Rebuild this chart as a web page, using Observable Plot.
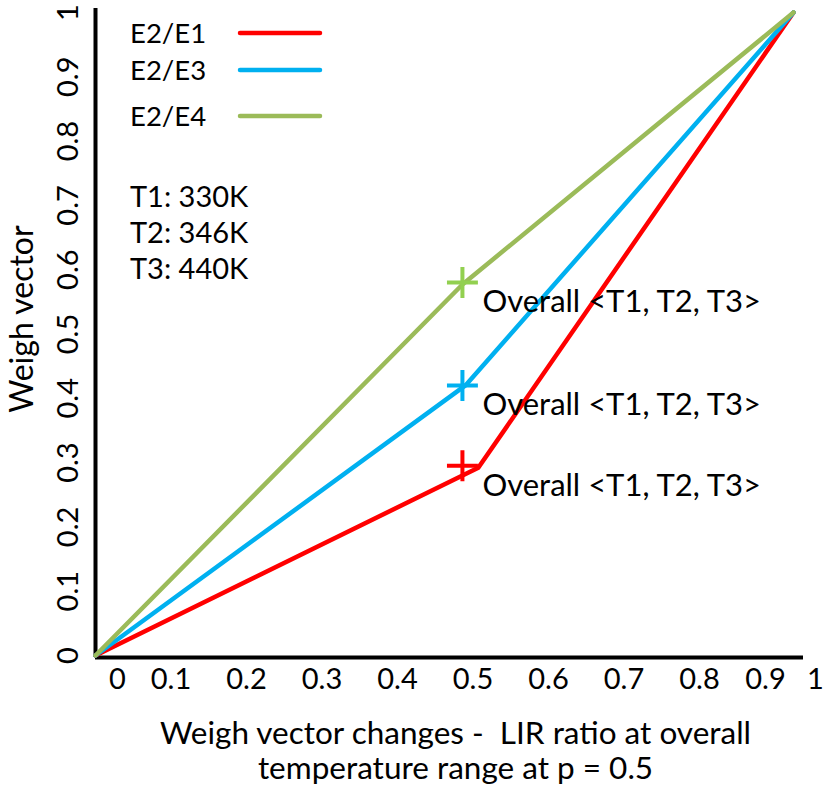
<!DOCTYPE html>
<html><head><meta charset="utf-8">
<script src="https://cdn.jsdelivr.net/npm/d3@7"></script>
<script src="https://cdn.jsdelivr.net/npm/@observablehq/plot@0.6"></script>
<style>body{margin:0;background:#fff} #chart{width:827px;height:787px}</style>
</head><body><div id="chart"></div>
<script>
// ---- data ----
const series = ["E2/E1", "E2/E3", "E2/E4"];
const lineColors = ["#FF0000", "#00B0F0", "#9BBB59"];
const markerColors = ["#FF0000", "#00B0F0", "#92D050"];
const xE2E1 = [0, 0.507, 0.956];
const yE2E1 = [0, 0.292, 1];
const xE2E3 = [0, 0.49, 0.956];
const yE2E3 = [0, 0.42, 1];
const xE2E4 = [0, 0.486, 0.956];
const yE2E4 = [0, 0.577, 1];
const markerX = [0.486, 0.486, 0.486];
const markerY = [0.295, 0.42, 0.58];
const annotation = "Overall <T1, T2, T3>";
const tempLabels = ["T1: 330K", "T2: 346K", "T3: 440K"];
const xTicks = [0, 0.1, 0.2, 0.3, 0.4, 0.5, 0.6, 0.7, 0.8, 0.9, 1];
const xTickLabels = ["0", "0.1", "0.2", "0.3", "0.4", "0.5", "0.6", "0.7", "0.8", "0.9", "1"];
const yTicks = [0, 0.1, 0.2, 0.3, 0.4, 0.5, 0.6, 0.7, 0.8, 0.9, 1];
const yTickLabels = ["0", "0.1", "0.2", "0.3", "0.4", "0.5", "0.6", "0.7", "0.8", "0.9", "1"];
const xTitle = ["Weigh vector changes -  LIR ratio at overall", "temperature range at p = 0.5"];
const yTitle = "Weigh vector";

// ---- tables ----
const xs = [xE2E1, xE2E3, xE2E4], ys = [yE2E1, yE2E3, yE2E4];
const lineRows = series.flatMap((s, i) => xs[i].map((x, j) => ({series: s, x, y: ys[i][j]})));
const markerRows = series.map((s, i) => ({series: s, x: markerX[i], y: markerY[i], c: markerColors[i]}));
const xTickRows = xTicks.map((v, i) => ({v, label: xTickLabels[i]}));

// the original x axis is compressed after 0.8 (piecewise-linear)
const xWarp = d3.scaleLinear().domain([0, 0.8, 0.9, 1]).range([0, 604 / 720, 670 / 720, 1]);

const FONT = "Lato, 'Open Sans', sans-serif";
const chart = Plot.plot({
  width: 827, height: 787,
  marginLeft: 95, marginRight: 12, marginTop: 12, marginBottom: 132,
  style: {fontFamily: FONT, background: "white", color: "black"},
  x: {domain: [0, 1], transform: xWarp, axis: null},
  y: {domain: [0, 1], axis: null},
  color: {domain: series, range: lineColors},
  marks: [
    Plot.ruleX([0], {stroke: "black", strokeWidth: 4, insetTop: -4, insetBottom: -2}),
    Plot.ruleY([0], {stroke: "black", strokeWidth: 4, insetRight: 12, dy: 2}),
    Plot.line(lineRows, {x: "x", y: "y", z: "series", stroke: "series", strokeWidth: 4.5,
      strokeLinejoin: "round", strokeLinecap: "round"}),
    Plot.dot(markerRows, {x: "x", y: "y", symbol: "plus", r: 10, stroke: "c", strokeWidth: 4}),
    Plot.text(markerRows, {x: "x", y: "y", text: () => annotation, textAnchor: "start",
      dx: 20, dy: 20, fontSize: 31, fill: "black"}),
    // the "0" label sits clear of the y axis line, the others under their values
    Plot.text(xTickRows.slice(0, 1), {x: "v", text: "label", frameAnchor: "bottom", dy: 33, dx: 22,
      fontSize: 29, fill: "black"}),
    Plot.text(xTickRows.slice(1), {x: "v", text: "label", frameAnchor: "bottom", dy: 33,
      fontSize: 29, fill: "black"}),
    Plot.text(yTicks, {y: d => d, frameAnchor: "left", textAnchor: "middle", dx: -27, rotate: -90,
      text: (d, i) => yTickLabels[i], fontSize: 29, fill: "black"}),
    Plot.text([xTitle.join("\n")], {frameAnchor: "bottom", dy: 123, lineHeight: 1.1,
      fontSize: 31.5, fill: "black"}),
    Plot.text([yTitle], {frameAnchor: "left", textAnchor: "middle", dx: -73, dy: -15, rotate: -90,
      fontSize: 32, fill: "black"})
  ]
});
document.getElementById("chart").appendChild(chart);

// ---- in-chart legend and temperature notes ----
const svg = d3.select(chart);
const legRowY = [33, 70, 116];
const leg = svg.append("g").attr("font-family", FONT).attr("font-size", 27.5).attr("text-anchor", "start");
series.forEach((s, i) => {
  leg.append("text").attr("x", 130).attr("y", legRowY[i]).attr("dy", "0.35em").text(s);
  leg.append("line").attr("x1", 240).attr("x2", 320).attr("y1", legRowY[i]).attr("y2", legRowY[i])
    .attr("stroke", lineColors[i]).attr("stroke-width", 4.5).attr("stroke-linecap", "round");
});
const notes = svg.append("g").attr("font-family", FONT).attr("font-size", 29).attr("text-anchor", "start");
tempLabels.forEach((t, i) => {
  notes.append("text").attr("x", 130).attr("y", 197 + i * 36).attr("dy", "0.35em").text(t);
});
</script></body></html>
